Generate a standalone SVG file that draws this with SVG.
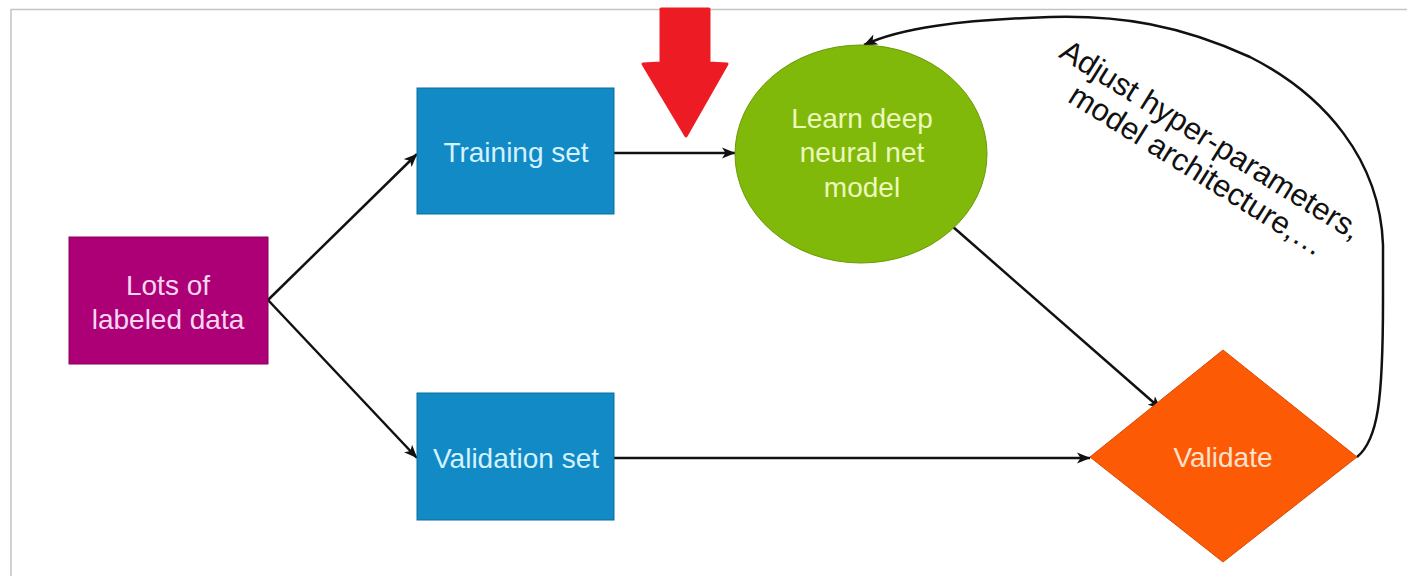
<svg xmlns="http://www.w3.org/2000/svg" width="1407" height="576" viewBox="0 0 1407 576">
<style>
.lbl{font-family:"Liberation Sans",Arial,Helvetica,sans-serif;font-size:28px;text-anchor:middle}
.conn{fill:none;stroke:#111;stroke-width:2.5}
</style>
<defs>
<marker id="ah" viewBox="0 0 14 12" refX="13" refY="6" markerWidth="14" markerHeight="12" markerUnits="userSpaceOnUse" orient="auto">
<path d="M0,0.5 L13.5,6 L0,11.5 L3.5,6 Z" fill="#111"/>
</marker>
</defs>
<rect width="1407" height="576" fill="#fff"/>
<path d="M11,576 L11,9.5 L1407,9.5" fill="none" stroke="#c4c4c4" stroke-width="1.5"/>

<g id="connectors">
<line class="conn" x1="268" y1="300" x2="417" y2="154" marker-end="url(#ah)"/>
<line class="conn" x1="268" y1="300" x2="417" y2="458" marker-end="url(#ah)"/>
<line class="conn" x1="614" y1="153" x2="735" y2="153" marker-end="url(#ah)"/>
<line class="conn" x1="614" y1="458" x2="1090" y2="458" marker-end="url(#ah)"/>
<line class="conn" x1="952" y1="226" x2="1161" y2="409" marker-end="url(#ah)"/>
<path class="conn" d="M1357,457 C1378,440 1383,400 1383,300 L1383,245 C1380,160 1325,95 1250,57 C1180,25 1120,15 1050,17 C960,20 900,28 864,45" marker-end="url(#ah)"/>
</g>

<g id="red-arrow">
<polygon points="661,9 709,9 709,63 727,64 686,136 643,64 661,63" fill="#ed1c24" stroke="#ed1c24" stroke-width="3" stroke-linejoin="round"/>
</g>

<g id="node-data">
<rect x="69" y="237" width="199" height="127" fill="#ad0077" stroke="#8c0060" stroke-width="1"/>
<text class="lbl" fill="#f8d6f0" x="168" y="295">Lots of</text>
<text class="lbl" fill="#f8d6f0" x="168" y="329">labeled data</text>
</g>

<g id="node-training">
<rect x="417" y="88" width="197" height="126" fill="#118ac6" stroke="#0d6e9f" stroke-width="1"/>
<text class="lbl" fill="#d4f2ff" x="516" y="162">Training set</text>
</g>

<g id="node-validation">
<rect x="417" y="393" width="197" height="127" fill="#118ac6" stroke="#0d6e9f" stroke-width="1"/>
<text class="lbl" fill="#d4f2ff" x="516" y="468">Validation set</text>
</g>

<g id="node-learn">
<ellipse cx="861" cy="154" rx="126" ry="109" fill="#80b90a" stroke="#6a9a08" stroke-width="1"/>
<text class="lbl" fill="#ecf8bc" x="862" y="128">Learn deep</text>
<text class="lbl" fill="#ecf8bc" x="862" y="162">neural net</text>
<text class="lbl" fill="#ecf8bc" x="862" y="197">model</text>
</g>

<g id="node-validate">
<polygon points="1090,457 1223,350 1357,457 1223,562" fill="#fd5a06" stroke="#d84a00" stroke-width="1"/>
<text class="lbl" fill="#fde2cf" x="1223" y="467">Validate</text>
</g>

<g id="loop-label">
<text class="lbl" fill="#111" transform="translate(1209,151) rotate(32)" style="font-size:31px">
<tspan x="0" y="0">Adjust hyper-parameters,</tspan>
<tspan x="0" y="33">model architecture,…</tspan>
</text>
</g>
</svg>
